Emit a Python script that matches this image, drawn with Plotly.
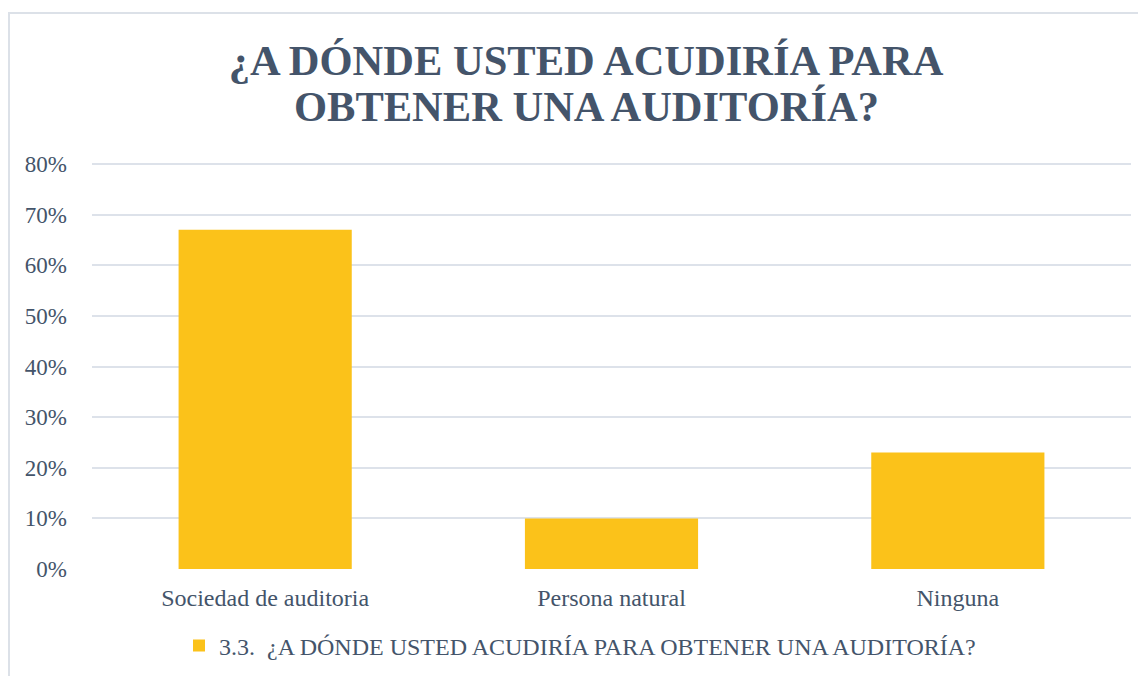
import plotly.graph_objects as go

categories = ["Sociedad de auditoria", "Persona natural", "Ninguna"]
values = [0.67, 0.10, 0.23]
series_name = "3.3.  ¿A DÓNDE USTED ACUDIRÍA PARA OBTENER UNA AUDITORÍA?"
title_line1 = "¿A DÓNDE USTED ACUDIRÍA PARA"
title_line2 = "OBTENER UNA AUDITORÍA?"
y_ticks = [0, 0.1, 0.2, 0.3, 0.4, 0.5, 0.6, 0.7, 0.8]
y_max = 0.81

SERIF = "Liberation Serif, Times New Roman, serif"
TXT = "#44546A"

# page body has an 8px margin; figure is sized/placed to compensate
W, H = 1138, 668
PL, PR, PB = 92, 1131, 569  # plot area in screen pixels
PT = round(PB - (y_max / 0.8) * (569 - 164))
PW, PH = PR - PL, PB - PT


def px(x):
    return (x - PL) / PW


def py(y):
    return (PB - y) / PH


fig = go.Figure()
fig.add_trace(go.Bar(
    x=categories, y=values, name=series_name,
    marker=dict(color="#FBC21A", line=dict(width=0)),
    showlegend=True,
))

fig.update_layout(
    width=W, height=H,
    margin=dict(l=PL - 8, r=W - (PR - 8), t=PT - 8, b=H - (PB - 8), autoexpand=False),
    paper_bgcolor="white", plot_bgcolor="white",
    bargap=0.5,
    title=dict(text=title_line1, x=(586 - 8) / W, xref="container", xanchor="center",
               y=1 - (60 - 8) / H, yref="container", yanchor="middle",
               font=dict(family=SERIF, size=42.5, color=TXT, weight="bold")),
    annotations=[dict(text=title_line2, xref="paper", yref="paper",
                      x=px(586), y=py(106),
                      xanchor="center", yanchor="middle", showarrow=False,
                      font=dict(family=SERIF, size=42.5, color=TXT, weight="bold"))],
    font=dict(family=SERIF, color=TXT),
    showlegend=True,
    legend=dict(orientation="h", x=px(580), xanchor="center",
                y=py(646), yanchor="middle",
                font=dict(family=SERIF, size=24, color=TXT),
                itemwidth=30),
    xaxis=dict(showgrid=False, showline=False, ticks="", automargin=False,
               ticklabelstandoff=12,
               tickfont=dict(family=SERIF, size=24, color=TXT)),
    yaxis=dict(range=[0, y_max], tickvals=y_ticks, tickformat=".0%",
               showgrid=True, gridcolor="#DDE2EA", gridwidth=1.5,
               zeroline=False, showline=False, ticks="", automargin=False,
               ticklabelstandoff=24,
               tickfont=dict(family=SERIF, size=23, color=TXT)),
    shapes=[dict(type="rect", xref="paper", yref="paper",
                 x0=px(9), x1=px(1200), y0=py(720), y1=py(13),
                 line=dict(color="#DCE1E8", width=2), layer="below")],
)

fig.write_html("out.html")
